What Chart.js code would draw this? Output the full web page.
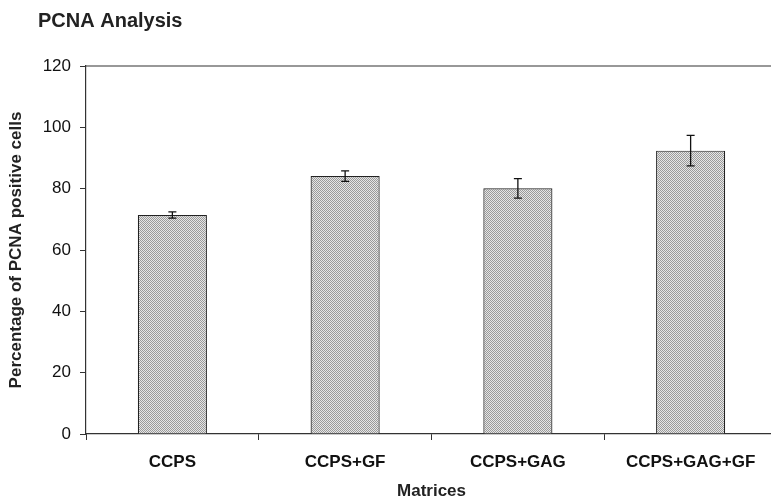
<!DOCTYPE html>
<html>
<head>
<meta charset="utf-8">
<script src="https://cdn.jsdelivr.net/npm/chart.js@4"></script>
<style>
  html, body { margin: 0; padding: 0; background: #fff; overflow: hidden; }
  #wrap { position: absolute; left: 0; top: 0; width: 777px; height: 502px; }
</style>
</head>
<body>
<div id="wrap"><canvas id="chart" width="777" height="502"></canvas></div>
<script>
const categories = ['CCPS', 'CCPS+GF', 'CCPS+GAG', 'CCPS+GAG+GF'];
const values = [71.4, 84.1, 80.1, 92.4];
const errors = [1.0, 1.7, 3.2, 5.0];
const yTicks = [0, 20, 40, 60, 80, 100, 120];

const FONT = 'Arial, "Liberation Sans", sans-serif';

// stippled grey fill, like the scanned bars
function makePattern() {
  const c = document.createElement('canvas');
  c.width = 2; c.height = 2;
  const g = c.getContext('2d');
  g.fillStyle = '#e6e6e6'; g.fillRect(0, 0, 2, 2);
  g.fillStyle = '#9a9a9a';
  g.fillRect(0, 0, 1, 1);
  g.fillRect(1, 1, 1, 1);
  return g.createPattern(c, 'repeat');
}

const errorBars = {
  id: 'errorBars',
  afterDatasetsDraw(chart) {
    const { ctx, scales: { x, y } } = chart;
    ctx.save();
    ctx.strokeStyle = '#111';
    ctx.lineWidth = 1.3;
    values.forEach((v, i) => {
      const px = x.getPixelForValue(i);
      const top = y.getPixelForValue(v + errors[i]);
      const bot = y.getPixelForValue(v - errors[i]);
      ctx.beginPath();
      ctx.moveTo(px, top); ctx.lineTo(px, bot);
      ctx.moveTo(px - 4, top); ctx.lineTo(px + 4, top);
      ctx.moveTo(px - 4, bot); ctx.lineTo(px + 4, bot);
      ctx.stroke();
    });
    ctx.restore();
  }
};

const frame = {
  id: 'frame',
  afterDraw(chart) {
    const { ctx, chartArea } = chart;
    ctx.save();
    ctx.strokeStyle = '#333';
    ctx.lineWidth = 1.2;
    ctx.beginPath();
    ctx.moveTo(chartArea.left, chartArea.top);
    ctx.lineTo(chartArea.right, chartArea.top);
    ctx.stroke();
    ctx.fillStyle = '#222';
    ctx.font = 'bold 20px ' + FONT;
    ctx.textBaseline = 'middle';
    ctx.fillText('PCNA Analysis', 38, 21);
    ctx.restore();
  }
};

chart = new Chart(document.getElementById('chart'), {
  type: 'bar',
  data: {
    labels: categories,
    datasets: [{
      data: values,
      backgroundColor: makePattern(),
      borderColor: '#222',
      borderWidth: 1.2,
      barPercentage: 0.4,
      categoryPercentage: 1
    }]
  },
  plugins: [errorBars, frame],
  options: {
    responsive: false,
    animation: false,
    layout: { padding: { top: 66, right: 0, left: 0, bottom: 0 } },
    plugins: {
      legend: { display: false },
      tooltip: { enabled: false }
    },
    scales: {
      x: {
        afterFit: s => { s.height = 68; },
        grid: {
          display: true,
          offset: true,
          drawOnChartArea: false,
          drawTicks: true,
          tickLength: 6,
          color: '#333'
        },
        border: { color: '#333', width: 1.2 },
        ticks: {
          color: '#111',
          padding: 12,
          font: { family: FONT, size: 17, weight: 'bold' }
        },
        title: {
          display: true,
          text: 'Matrices',
          color: '#222',
          padding: { top: 2, bottom: 0 },
          font: { family: FONT, size: 17, weight: 'bold' }
        }
      },
      y: {
        min: 0,
        max: 120,
        afterFit: s => { s.width = 86; },
        afterBuildTicks: s => { s.ticks = yTicks.map(v => ({ value: v })); },
        grid: {
          display: true,
          drawOnChartArea: false,
          tickLength: 6,
          color: '#333'
        },
        border: { color: '#333', width: 1.2 },
        ticks: {
          color: '#111',
          padding: 9,
          font: { family: FONT, size: 17 }
        },
        title: {
          display: true,
          text: 'Percentage of PCNA positive cells',
          color: '#222',
          padding: { top: 6, bottom: 0 },
          font: { family: FONT, size: 17, weight: 'bold' }
        }
      }
    }
  }
});
</script>
</body>
</html>
